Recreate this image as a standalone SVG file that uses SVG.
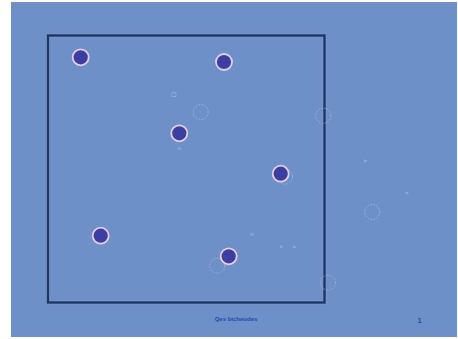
<svg xmlns="http://www.w3.org/2000/svg" width="458" height="339" viewBox="0 0 458 339">
<style>
.dot{fill:#3b3fa3;stroke:#e8cde4;stroke-width:1.8}
.ghost{fill:none;stroke:#b9c9ea;stroke-width:0.6;stroke-dasharray:1.5 1.5}
.mark{fill:none;stroke:#9fb4de;stroke-width:0.6}
.lbl{font-family:"Liberation Sans",Arial,sans-serif;fill:#1d4cab}
</style>
<rect x="0" y="0" width="458" height="339" fill="#ffffff"/>
<rect x="11" y="2" width="446" height="335" fill="#6d90c8"/>
<g id="frame">
<rect x="48" y="35.5" width="276.5" height="267" fill="none" stroke="#c79ab8" stroke-width="4" opacity="0.35"/>
<rect x="48" y="35.5" width="276.5" height="267" fill="none" stroke="#143a6c" stroke-width="2.4"/>
</g>
<g id="faint">
<circle class="ghost" cx="200.7" cy="112" r="7.5"/>
<circle class="ghost" cx="323.3" cy="115.7" r="7.5"/>
<circle class="ghost" cx="372.3" cy="212" r="7.5"/>
<circle class="ghost" cx="217.3" cy="265.7" r="7.5"/>
<circle class="ghost" cx="328" cy="282.7" r="7.5"/>
<circle class="ghost" cx="285" cy="176.7" r="7.5"/>
<rect class="mark" x="172" y="92.7" width="4" height="4"/>
<path class="mark" d="M178.5 147.5 l3 1.2 l-3 1.2z M364.5 159.8 l2.6 1.2 l-2.6 1.2z M405.8 191.8 l2.6 1.2 l-2.6 1.2z M251 233 l3 1.3 l-3 1.3z M280.4 245.5 l2.6 1.2 l-2.6 1.2z M293.4 245.8 l2.6 1.2 l-2.6 1.2z"/>
</g>
<g id="n1"><circle class="dot" cx="80.7" cy="57.3" r="8"/></g>
<g id="n2"><circle class="dot" cx="224" cy="62" r="8"/></g>
<g id="n3"><circle class="dot" cx="179.3" cy="133.3" r="8"/></g>
<g id="n4"><circle class="dot" cx="280.7" cy="173.7" r="8"/></g>
<g id="n5"><circle class="dot" cx="100.7" cy="235.7" r="8"/></g>
<g id="n6"><circle class="dot" cx="228.7" cy="256.3" r="8"/></g>
<g id="connectors"></g>
<text class="lbl" x="236" y="321" font-size="6" font-weight="bold" text-anchor="middle">Qes bicheudes</text>
<text class="lbl" x="419.5" y="322.5" font-size="7.5" font-weight="bold" text-anchor="middle">1</text>
</svg>
